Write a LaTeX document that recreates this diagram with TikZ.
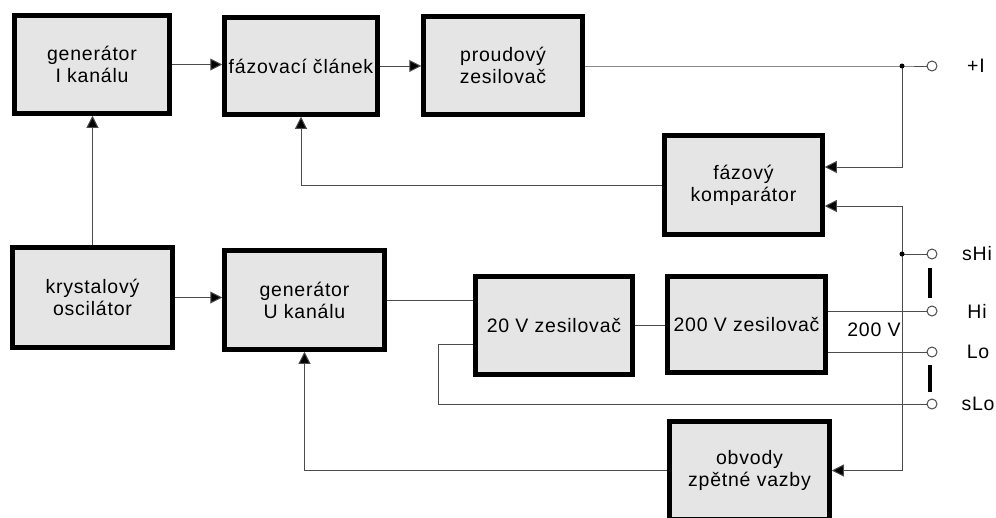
\documentclass[tikz,border=0pt]{standalone}
\usepackage{fontspec}
\setmainfont{Liberation Sans}[LetterSpace=4]
\usetikzlibrary{arrows.meta}

\tikzset{
  block/.style={draw=black, line width=4.5pt, fill=black!10, align=center,
    font=\fontsize{19.5}{22}\selectfont, inner sep=0pt},
  wire/.style={draw=black!70, line width=1pt},
  arr/.style={wire, -{Triangle[length=12pt,width=12pt,fill=black]}},
  term/.style={circle, draw=black!70, line width=1pt, fill=white, minimum size=10pt, inner sep=0pt},
  lbl/.style={font=\fontsize{19.5}{22}\selectfont, inner sep=0pt},
  bar/.style={line width=4.5pt, black}
}

\begin{document}
\begin{tikzpicture}[x=1pt, y=-1pt]
  \useasboundingbox (0,0) rectangle (996,517);
  \clip (0,0) rectangle (996,517);

  % blocks
  \node[block, minimum width=155pt, minimum height=98pt] (genI) at (92,64.5) {generátor\\I kanálu};
  \node[block, minimum width=153pt, minimum height=97pt] (faz) at (301,66) {fázovací článek};
  \node[block, minimum width=159pt, minimum height=98pt] (proud) at (503,65.5) {proudový\\zesilovač};
  \node[block, minimum width=158pt, minimum height=99pt] (komp) at (743.5,185) {fázový\\komparátor};
  \node[block, minimum width=160pt, minimum height=100pt] (kryst) at (92.5,297.5) {krystalový\\oscilátor};
  \node[block, minimum width=160pt, minimum height=99pt] (genU) at (304.5,300) {generátor\\U kanálu};
  \node[block, minimum width=157pt, minimum height=98pt] (z20) at (554,325.5) {20 V zesilovač};
  \node[block, minimum width=158pt, minimum height=96pt] (z200) at (746.5,324.5) {200 V zesilovač};
  \node[block, minimum width=160pt, minimum height=98pt] (obv) at (749.5,470.5) {obvody\\zpětné vazby};

  % terminals
  \node[term] (tI) at (932,66) {};
  \node[term] (tS) at (932,254) {};
  \node[term] (tHi) at (932,311) {};
  \node[term] (tLo) at (932,352) {};
  \node[term] (tsLo) at (932,404) {};
  \node[lbl] (lI) at (976,66) {+I};
  \node[lbl] (lS) at (977,254) {sHi};
  \node[lbl] (lHi) at (977,311) {Hi};
  \node[lbl] (lLo) at (978,352) {Lo};
  \node[lbl] (lsLo) at (978,404) {sLo};
  \node[lbl] (l200) at (874,330) {200 V};

  \coordinate (jI) at (902,66);
  \coordinate (jS) at (902,254);
  \coordinate (cL) at (438,404);

  % forward path
  \draw[arr] (genI.east) -- (genI.east -| faz.west);
  \draw[arr] (faz.east) -- (faz.east -| proud.west);
  \draw[wire] (proud.east |- jI) -- (jI) -- (tI);
  \draw[arr] (kryst.north) -- (kryst.north |- genI.south);
  \draw[arr] (kryst.east) -- (kryst.east -| genU.west);
  \draw[wire] (genU.east) -- (genU.east -| z20.west);
  \draw[wire] (z20.east) -- (z20.east -| z200.west);
  \draw[wire] (tHi -| z200.east) -- (tHi);
  \draw[wire] (tLo -| z200.east) -- (tLo);
  \draw[wire] (jS) -- (tS);
  \draw[wire] ([yshift=-19pt]z20.west) -| (cL) -- (tsLo);

  % feedback
  \draw[arr] (jI) |- ([yshift=18pt]komp.east);
  \draw[arr] (jS) |- ([yshift=-21pt]komp.east);
  \draw[arr] (jS) |- (obv.east);
  \draw[arr] (komp.west) -| (faz.south);
  \draw[arr] (obv.west) -| (genU.south);

  \fill (jI) circle (2.5pt);
  \fill (jS) circle (2.5pt);

  % links between terminals
  \draw[bar] (930,268) -- (930,298);
  \draw[bar] (930,365) -- (930,392);
\end{tikzpicture}
\end{document}
